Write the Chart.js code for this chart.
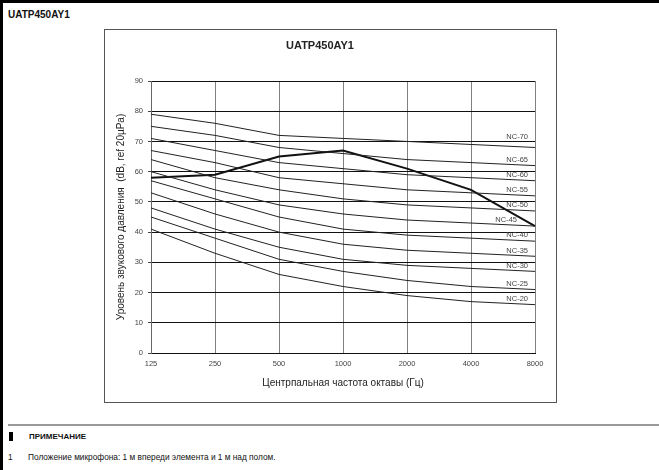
<!DOCTYPE html>
<html>
<head>
<meta charset="utf-8">
<script src="https://cdn.jsdelivr.net/npm/chart.js"></script>
<style>
  body { margin: 0; width: 659px; height: 470px; position: relative; overflow: hidden; background: #fff;
         font-family: "Liberation Sans", Arial, sans-serif; color: #111; }
  .abs { position: absolute; }
</style>
</head>
<body>
<div class="abs" style="left:0;top:0;width:659px;height:3px;background:#000"></div>
<div class="abs" style="left:0;top:0;width:3px;height:470px;background:#000"></div>
<div class="abs" style="left:8px;top:9px;font-weight:bold;font-size:10px">UATP450AY1</div>

<div class="abs" style="left:104px;top:29px;width:451px;height:372px;border:1px solid #555">
  <canvas id="nc" width="451" height="372"></canvas>
</div>

<div class="abs" style="left:8px;top:424px;width:651px;height:2px;background:#999"></div>
<div class="abs" style="left:9px;top:432px;width:4px;height:9px;background:#000"></div>
<div class="abs" style="left:29px;top:432px;font-weight:bold;font-size:8px">ПРИМЕЧАНИЕ</div>
<div class="abs" style="left:8px;top:452px;font-size:8.3px">1</div>
<div class="abs" style="left:28px;top:452px;font-size:8.3px">Положение микрофона: 1 м впереди элемента и 1 м над полом.</div>

<script>
const freqLabels = ['125', '250', '500', '1000', '2000', '4000', '8000'];
const unitLevels = [58, 59, 65, 67, 61, 54, 42];

const nc70 = [79, 76, 72, 71, 70, 69, 68];
const nc65 = [75, 72, 68, 66, 64, 63, 62];
const nc60 = [71, 67, 63, 61, 59, 58, 57];
const nc55 = [67, 63, 58, 56, 54, 53, 52];
const nc50 = [64, 58, 54, 51, 49, 48, 47];
const nc45 = [60, 54, 49, 46, 44, 43, 42];
const nc40 = [57, 51, 45, 41, 39, 38, 37];
const nc35 = [53, 46, 40, 36, 34, 33, 32];
const nc30 = [48, 41, 35, 31, 29, 28, 27];
const nc25 = [45, 38, 31, 27, 24, 22, 21];
const nc20 = [41, 33, 26, 22, 19, 17, 16];

const ncNames = ['NC-70', 'NC-65', 'NC-60', 'NC-55', 'NC-50', 'NC-45', 'NC-40', 'NC-35', 'NC-30', 'NC-25', 'NC-20'];
const ncCurves = [nc70, nc65, nc60, nc55, nc50, nc45, nc40, nc35, nc30, nc25, nc20];

const datasets = ncCurves.map((vals, i) => ({
  label: ncNames[i],
  data: vals,
  borderColor: '#222',
  borderWidth: 1,
  pointRadius: 0,
  tension: 0
}));
datasets.push({
  label: 'UATP450AY1',
  data: unitLevels,
  borderColor: '#111',
  borderWidth: 2,
  pointRadius: 0,
  tension: 0
});

// NC names written just above the right end of each curve
const ncLabelPlugin = {
  id: 'ncLabels',
  afterDatasetsDraw(chart) {
    const ctx = chart.ctx;
    ctx.save();
    ctx.font = '7.5px "Liberation Sans", Arial, sans-serif';
    ctx.fillStyle = '#444';
    ctx.textAlign = 'right';
    ctx.textBaseline = 'bottom';
    ncNames.forEach((name, i) => {
      const pts = chart.getDatasetMeta(i).data;
      const p = pts[pts.length - 1];
      let dx = -7, dy = -2;
      if (name === 'NC-45') dx = -18;
      if (name === 'NC-70') dy = -7;
      ctx.fillText(name, p.x + dx, p.y + dy);
    });
    ctx.restore();
  }
};

new Chart(document.getElementById('nc'), {
  type: 'line',
  data: { labels: freqLabels, datasets: datasets },
  plugins: [ncLabelPlugin],
  options: {
    responsive: false,
    animation: false,
    layout: { padding: { left: 0, right: 21, top: 0, bottom: 0 } },
    plugins: {
      legend: { display: false },
      tooltip: { enabled: false },
      title: {
        display: true,
        text: 'UATP450AY1',
        color: '#222',
        font: { family: '"Liberation Sans", Arial, sans-serif', size: 11, weight: 'bold' },
        padding: { top: 9.4, bottom: 28.4 }
      }
    },
    scales: {
      x: {
        offset: false,
        grid: { color: '#808080', lineWidth: 1, drawTicks: false },
        border: { color: '#111', width: 1 },
        ticks: { color: '#444', padding: 6, maxRotation: 0,
                 font: { family: '"Liberation Sans", Arial, sans-serif', size: 7.5 } },
        title: {
          display: true,
          text: 'Центрпальная частота октавы (Гц)',
          color: '#222',
          font: { family: '"Liberation Sans", Arial, sans-serif', size: 10 },
          padding: { top: 0, bottom: 13 }
        },
        afterFit(scale) { scale.height = 49; }
      },
      y: {
        min: 0,
        max: 90,
        ticks: { stepSize: 10, color: '#444', padding: 5,
                 font: { family: '"Liberation Sans", Arial, sans-serif', size: 7.5 } },
        grid: { color: '#111', lineWidth: 1, tickLength: 3, tickColor: '#444' },
        border: { color: '#666', width: 1 },
        title: {
          display: true,
          text: 'Уровень звукового давления  (dB, ref 20µPa)',
          color: '#222',
          font: { family: '"Liberation Sans", Arial, sans-serif', size: 10 },
          padding: { top: 10.7, bottom: 0 }
        },
        afterFit(scale) { scale.width = 46; }
      }
    }
  }
});
</script>
</body>
</html>
